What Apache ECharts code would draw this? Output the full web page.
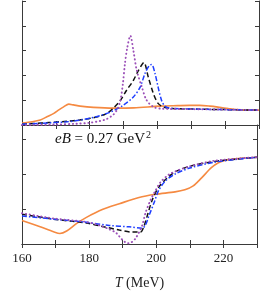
<!DOCTYPE html>
<html>
<head>
<meta charset="utf-8">
<script src="https://cdn.jsdelivr.net/npm/echarts@6/dist/echarts.min.js"></script>
<style>
html,body{margin:0;padding:0;background:#fff;}
#c{width:260px;height:291px;}
</style>
</head>
<body>
<div id="c"></div>
<script>
// ---- data (T in MeV, arbitrary units on y) ----
var xTicks = [160, 180, 200, 220];

// top panel
var topOrange = [[160,0.08],[163,0.13],[165.4,0.2],[167.5,0.34],[169.4,0.47],[171,0.62],[172.3,0.73],[173.8,0.84],[175.2,0.81],[177.2,0.76],[181.1,0.71],[187,0.68],[193,0.69],[200.7,0.76],[206,0.78],[209.5,0.79],[212.5,0.79],[215.5,0.76],[218.4,0.71],[221,0.66],[223.3,0.62],[226,0.6],[230,0.6]];
var topBlack = [[160,0.03],[163.5,0.06],[168,0.1],[173.3,0.15],[177,0.2],[180.2,0.27],[183,0.36],[185.1,0.47],[187,0.68],[189,0.98],[190.9,1.4],[192.9,1.8],[194.4,2.2],[196,2.52],[197.3,1.93],[198.8,1.27],[200.2,0.87],[201.7,0.73],[204,0.67],[212,0.64],[220,0.62],[230,0.6]];
var topBlue = [[160,0.03],[166,0.07],[173.3,0.13],[177,0.19],[181.2,0.31],[186.1,0.52],[189.9,0.8],[192.9,1.13],[194.9,1.53],[196.3,2.07],[197.6,2.4],[198.3,2.44],[199.3,2.07],[200.2,1.53],[201.2,1.0],[202.2,0.76],[203.6,0.68],[212,0.64],[220,0.62],[230,0.6]];
var topPurple = [[160,0.0],[170,0.02],[176,0.05],[180,0.09],[183,0.16],[185,0.24],[187,0.42],[188,0.6],[189,0.95],[189.8,1.67],[190.4,2.47],[191.1,3.13],[192,3.6],[192.9,3.0],[193.9,2.2],[195.4,1.53],[196.8,1.0],[198.8,0.73],[201,0.66],[210,0.64],[220,0.62],[230,0.6]];

// bottom panel
var botOrange = [[160,0.67],[165.4,0.49],[169.4,0.35],[171.3,0.3],[173.3,0.37],[176.2,0.58],[179.2,0.76],[184.1,0.99],[189,1.15],[194.85,1.33],[199.8,1.42],[205.6,1.49],[208.5,1.55],[211,1.66],[213.5,1.89],[216.4,2.18],[218.5,2.32],[220.4,2.39],[224.3,2.44],[230,2.48]];
var botBlack = [[160,0.85],[169.4,0.71],[179.2,0.6],[184,0.5],[189,0.4],[192.9,0.34],[195.3,0.34],[196.3,0.5],[197.3,0.8],[198.8,1.26],[200.7,1.62],[203.2,1.88],[205.6,2.06],[210,2.22],[217.4,2.36],[230,2.48]];
var botBlue = [[160,0.8],[169.4,0.71],[179.2,0.62],[186,0.53],[191.9,0.49],[195.8,0.45],[196.8,0.55],[197.8,0.8],[199.3,1.17],[200.7,1.53],[202.7,1.8],[205.6,2.0],[210,2.17],[217.4,2.34],[230,2.48]];
var botPurple = [[160,0.88],[169.4,0.73],[179.2,0.63],[183.1,0.53],[186,0.42],[188,0.32],[189.9,0.12],[191.5,0.02],[192.5,0.04],[193.9,0.17],[195.8,0.53],[196.8,0.89],[198.3,1.26],[199.8,1.53],[201.2,1.76],[203.7,1.98],[206.1,2.09],[210,2.22],[217.4,2.38],[230,2.48]];

var FONT = 'Liberation Serif';
var FRAME = '#3a3a3a';
var C_OR = '#F58A42', C_BK = '#111111', C_BL = '#1E3DFF', C_PU = '#9B4FB8';

function xAx(gi, pos, labels) {
  return {
    type: 'value', gridIndex: gi, position: pos, min: 160, max: 230, interval: 10,
    axisLine: {show: true, lineStyle: {color: FRAME, width: 1}},
    axisTick: {show: true, inside: true, length: 4, lineStyle: {color: FRAME}},
    splitLine: {show: false},
    axisLabel: labels ? {
      show: true, margin: 8, fontFamily: FONT, fontSize: 13, color: '#222',
      formatter: function (v) { return xTicks.indexOf(v) >= 0 ? String(v) : ''; }
    } : {show: false},
    name: labels ? '{i|T} (MeV)' : '',
    nameLocation: 'middle', nameGap: 32,
    nameTextStyle: {fontFamily: FONT, fontSize: 14, color: '#222',
      rich: {i: {fontFamily: FONT, fontSize: 14, fontStyle: 'italic', color: '#222'}}}
  };
}
function yAx(gi, pos, max) {
  return {
    type: 'value', gridIndex: gi, position: pos, min: 0, max: max, interval: 1,
    axisLine: {show: true, lineStyle: {color: FRAME, width: 1}},
    axisTick: {show: true, inside: true, length: 4, lineStyle: {color: FRAME}},
    splitLine: {show: false},
    axisLabel: {show: false}
  };
}
function ser(data, xi, color, dash, w, cap) {
  return {
    type: 'line', data: data, xAxisIndex: xi, yAxisIndex: xi,
    symbol: 'none', smooth: 0.3, animation: false, silent: true,
    lineStyle: {color: color, width: w || 1.5, type: dash, cap: cap || 'butt'}
  };
}

var chart = echarts.init(document.getElementById('c'), null, {renderer: 'canvas'});
chart.setOption({
  backgroundColor: '#fff',
  animation: false,
  grid: [
    {left: 22, top: 1, width: 237, height: 124},
    {left: 22, top: 125, width: 237, height: 124}
  ],
  xAxis: [xAx(0, 'bottom', false), xAx(0, 'top', false), xAx(1, 'bottom', true), xAx(1, 'top', false)],
  yAxis: [yAx(0, 'left', 5), yAx(0, 'right', 5), yAx(1, 'left', 3.4), yAx(1, 'right', 3.4)],
  series: [
    ser(topOrange, 0, C_OR, 'solid', 1.6),
    ser(topBlack, 0, C_BK, [5, 3]),
    ser(topBlue, 0, C_BL, [5, 2, 1.5, 2]),
    ser(topPurple, 0, C_PU, [0.3, 3.6], 1.9, 'round'),
    ser(botOrange, 2, C_OR, 'solid', 1.6),
    ser(botBlack, 2, C_BK, [5, 3]),
    ser(botBlue, 2, C_BL, [5, 2, 1.5, 2]),
    ser(botPurple, 2, C_PU, [0.3, 3.6], 1.9, 'round')
  ],
  graphic: [{
    type: 'text', left: 55, top: 130, silent: true,
    style: {
      text: '{i|eB} = 0.27 GeV{s|2}',
      fontFamily: FONT, fontSize: 15, fill: '#111',
      rich: {
        i: {fontFamily: FONT, fontSize: 15, fontStyle: 'italic', color: '#111'},
        s: {fontFamily: FONT, fontSize: 10, color: '#111', padding: [0, 0, 8, 1]}
      }
    }
  }]
});
</script>
</body>
</html>
